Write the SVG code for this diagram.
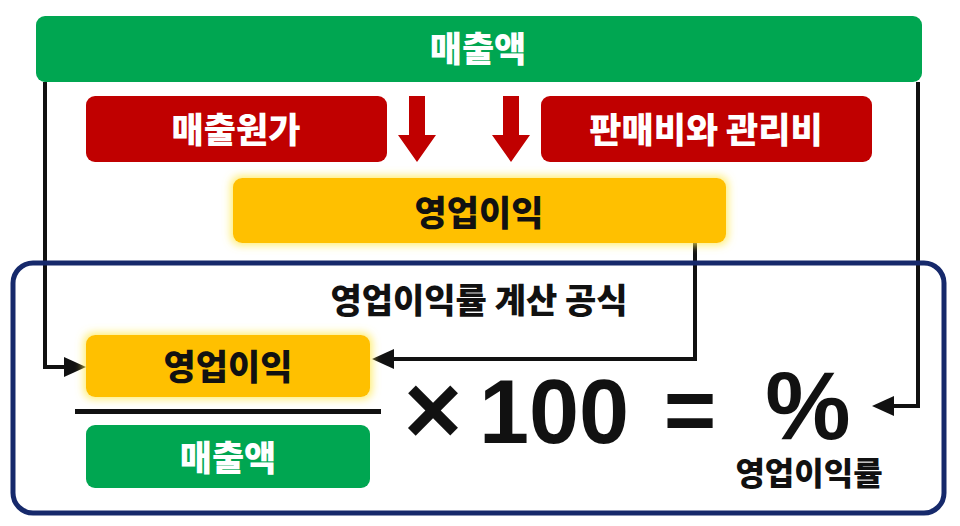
<svg xmlns="http://www.w3.org/2000/svg" width="960" height="526" viewBox="0 0 960 526">
  <defs>
    <style>
      .lbl { font-family: "Noto Sans CJK KR", "Noto Sans", sans-serif; font-weight: 900; text-anchor: middle; }
      .w { fill: #ffffff; }
      .k { fill: #111111; }
      .green { fill: #00A651; }
      .red { fill: #C00000; }
      .yellow { fill: #FFC000; }
      .conn { fill: none; stroke: #111111; stroke-width: 4; }
      .math { font-family: "Liberation Sans", Arial, sans-serif; font-weight: 700; text-anchor: middle; fill: #111111; }
    </style>
    <filter id="glow" x="-20%" y="-40%" width="140%" height="180%">
      <feMorphology in="SourceAlpha" operator="dilate" radius="2" result="d"/>
      <feGaussianBlur in="d" stdDeviation="4" result="b"/>
      <feFlood flood-color="#FFEB5A" flood-opacity="0.9"/>
      <feComposite in2="b" operator="in" result="g"/>
      <feMerge><feMergeNode in="g"/><feMergeNode in="SourceGraphic"/></feMerge>
    </filter>
    <marker id="ah" markerUnits="userSpaceOnUse" markerWidth="22" markerHeight="20" refX="0" refY="10" orient="auto" viewBox="0 0 22 20">
      <path d="M0,0 L22,10 L0,20 Z" fill="#111111"/>
    </marker>
  </defs>
  <rect width="960" height="526" fill="#ffffff"/>

  <g id="connectors">
    <path class="conn" d="M45 82 V367 H64" marker-end="url(#ah)"/>
    <path class="conn" d="M695 243 V359 H394" marker-end="url(#ah)"/>
    <path class="conn" d="M918 82 V406 H894" marker-end="url(#ah)"/>
    <polygon class="red" points="409,96 425,96 425,135 436,135 417,162 398,135 409,135"/>
    <polygon class="red" points="503,96 519,96 519,135 530,135 511,162 492,135 503,135"/>
  </g>

  <g id="revenue-top">
    <rect class="green" x="36" y="16" width="886" height="66" rx="9"/>
    <text class="lbl w" x="478" y="62" font-size="35">매출액</text>
  </g>

  <g id="cogs">
    <rect class="red" x="86" y="96" width="301" height="66" rx="9"/>
    <text class="lbl w" x="236" y="143" font-size="35">매출원가</text>
  </g>

  <g id="sga">
    <rect class="red" x="541" y="96" width="331" height="66" rx="9"/>
    <text class="lbl w" x="706" y="143" font-size="35">판매비와 관리비</text>
  </g>

  <g id="operating-profit">
    <rect class="yellow" x="233" y="178" width="493" height="65" rx="9" filter="url(#glow)"/>
    <text class="lbl k" x="479" y="226" font-size="35">영업이익</text>
  </g>

  <g id="formula">
    <rect x="13" y="263" width="931" height="250" rx="20" fill="none" stroke="#16296B" stroke-width="5"/>
    <text class="lbl k" x="479" y="313" font-size="34">영업이익률 계산 공식</text>
  </g>

  <g id="numerator">
    <rect class="yellow" x="86" y="335" width="284" height="62" rx="9" filter="url(#glow)"/>
    <text class="lbl k" x="228" y="380" font-size="35">영업이익</text>
  </g>

  <g id="fraction-line">
    <rect x="75" y="409" width="306" height="5" fill="#111111"/>
  </g>

  <g id="denominator">
    <rect class="green" x="86" y="425" width="284" height="63" rx="9"/>
    <text class="lbl w" x="228" y="471" font-size="35">매출액</text>
  </g>

  <g id="multiply">
    <text class="math" x="433" y="444" font-size="100">×</text>
    <text class="math" x="554" y="443" font-size="90">100</text>
    <text class="math" x="690" y="441" font-size="90">=</text>
  </g>

  <g id="result">
    <text class="math" x="808" y="439" font-size="96">%</text>
    <text class="lbl k" x="809" y="485" font-size="32">영업이익률</text>
  </g>
</svg>
